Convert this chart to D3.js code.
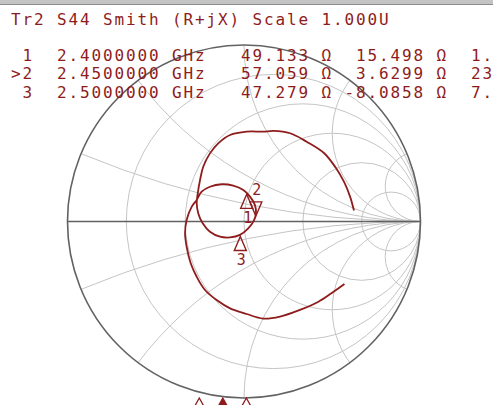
<!DOCTYPE html>
<html>
<head>
<meta charset="utf-8">
<script src="https://cdn.jsdelivr.net/npm/d3@7"></script>
<style>
  body { margin: 0; background: #fff; overflow: hidden; }
  text { font-family: "DejaVu Sans Mono", "Liberation Mono", monospace; white-space: pre; }
</style>
</head>
<body>
<svg id="chart" width="493" height="405"></svg>
<script>

// *** Data ***

var traceName = "Tr2 S44 Smith (R+jX) Scale 1.000U";

var markerIds = ["1", "2", "3"];
var markerFreqGHz = [2.4, 2.45, 2.5];
var markerR = [49.133, 57.059, 47.279];   // ohm
var markerX = [15.498, 3.6299, -8.0858];  // ohm
var activeMarker = "2";
var z0 = 50;

var gridR = [0.2, 0.5, 1, 2, 5];
var gridX = [0.2, 0.5, 1, 2, 5];

// sweep range guessed from where the marker arrows sit on the bottom edge
var sweepGHz = [2.12, 2.87];

var traceRe = [0.569, 0.493, 0.419, 0.317, 0.204, 0.108, 0.015, -0.079, -0.155, -0.221,
               -0.268, -0.302, -0.325, -0.334, -0.325, -0.296, -0.268,
               -0.240, -0.193, -0.126, -0.061, -0.004, 0.034, 0.062, 0.068, 0.053, 0.024,
               -0.023, -0.079, -0.136, -0.193, -0.234, -0.259, -0.268, -0.262,
               -0.249, -0.231, -0.193, -0.146, -0.079, 0.015, 0.109, 0.166, 0.261, 0.355,
               0.453, 0.521, 0.567, 0.601, 0.623];
var traceIm = [-0.354, -0.408, -0.456, -0.501, -0.539, -0.550, -0.524, -0.492, -0.445, -0.388,
               -0.313, -0.237, -0.143, -0.067, 0.008, 0.084, 0.122,
               0.169, 0.197, 0.211, 0.203, 0.178, 0.141, 0.093, 0.046, -0.001, -0.039,
               -0.076, -0.090, -0.086, -0.058, -0.010, 0.046, 0.103, 0.160,
               0.235, 0.310, 0.386, 0.443, 0.490, 0.509, 0.509, 0.513, 0.500, 0.452,
               0.388, 0.303, 0.224, 0.141, 0.062];

// *** Helpers ***

function gamma(r, x) {
  // normalised impedance -> reflection coefficient
  var dr = r + 1, den = dr * dr + x * x;
  var nr = r - 1;
  return [(nr * dr + x * x) / den, (x * dr - nr * x) / den];
}

function eqValue(x, fGHz) {
  var w = 2 * Math.PI * fGHz * 1e9;
  if (x >= 0) {
    var l = x / w;
    if (l >= 1e-9) return (l * 1e9).toPrecision(5) + " nH";
    return (l * 1e12).toPrecision(5) + " pH";
  }
  var c = -1 / (w * x);
  return (c * 1e12).toPrecision(5) + " pF";
}

// *** Chart ***

var svg = d3.select("#chart");
var cx = 244, cy = 221.5, rad = 176.5;

var sx = d3.scaleLinear().domain([-1, 1]).range([cx - rad, cx + rad]);
var sy = d3.scaleLinear().domain([-1, 1]).range([cy + rad, cy - rad]);
var len = d => sx(d) - sx(0);
var fx = d3.scaleLinear().domain(sweepGHz).range([sx(-1), sx(1)]);

var red = "#8e1c1c";

// window border at the top
svg.append("rect").attr("x", 0).attr("y", 0).attr("width", 493).attr("height", 5).attr("fill", "#c4c4c4");
svg.append("line").attr("x1", 0).attr("x2", 493).attr("y1", 4.5).attr("y2", 4.5)
  .attr("stroke", "#8c8c8c").attr("stroke-width", 1);

svg.append("clipPath").attr("id", "unit")
  .append("circle").attr("cx", sx(0)).attr("cy", sy(0)).attr("r", len(1));

var grid = svg.append("g").attr("clip-path", "url(#unit)")
  .attr("fill", "none").attr("stroke", "#c4c4c4").attr("stroke-width", 1);

grid.selectAll(".rc").data(gridR).enter().append("circle")
  .attr("class", "rc")
  .attr("cx", d => sx(d / (1 + d)))
  .attr("cy", sy(0))
  .attr("r", d => len(1 / (1 + d)));

grid.selectAll(".xc").data(gridX.concat(gridX.map(d => -d))).enter().append("circle")
  .attr("class", "xc")
  .attr("cx", sx(1))
  .attr("cy", d => sy(1 / d))
  .attr("r", d => len(1 / Math.abs(d)));

// outer circle and real axis
svg.append("circle").attr("cx", sx(0)).attr("cy", sy(0)).attr("r", len(1))
  .attr("fill", "none").attr("stroke", "#626262").attr("stroke-width", 1.6);
svg.append("line").attr("x1", sx(-1)).attr("x2", sx(1)).attr("y1", sy(0)).attr("y2", sy(0))
  .attr("stroke", "#626262").attr("stroke-width", 1.6);

// trace
var pts = traceRe.map((d, i) => [d, traceIm[i]]);
svg.append("path")
  .attr("d", d3.line().x(d => sx(d[0])).y(d => sy(d[1])).curve(d3.curveCatmullRom)(pts))
  .attr("fill", "none").attr("stroke", red).attr("stroke-width", 1.8);

// markers on the trace
var th = 14, tw = 6;
markerIds.forEach(function (id, i) {
  var g = gamma(markerR[i] / z0, markerX[i] / z0);
  var px = sx(g[0]), py = sy(g[1]);
  var up = id === activeMarker ? -1 : 1;
  svg.append("path")
    .attr("d", "M" + px + "," + py + "L" + (px - tw) + "," + (py + up * th) + "L" + (px + tw) + "," + (py + up * th) + "Z")
    .attr("fill", "none").attr("stroke", red).attr("stroke-width", 1.4);
  svg.append("text")
    .attr("x", px + 1).attr("y", up > 0 ? py + th + 15 : py - th - 7)
    .attr("text-anchor", "middle").attr("font-size", 15).attr("fill", red)
    .text(id);
});

// marker arrows on the stimulus edge
markerIds.forEach(function (id, i) {
  var px = fx(markerFreqGHz[i]), py = 398;
  svg.append("path")
    .attr("d", "M" + px + "," + py + "L" + (px - 5) + "," + (py + 9) + "L" + (px + 5) + "," + (py + 9) + "Z")
    .attr("fill", id === activeMarker ? red : "#fff").attr("stroke", red).attr("stroke-width", 1.3);
});

// title and marker table
var fontSize = 16, pitch = 11.5;
var txt = svg.append("g").attr("fill", red).attr("font-size", fontSize)
  .attr("letter-spacing", (pitch - 0.602 * fontSize).toFixed(2));

txt.append("text").attr("x", 11).attr("y", 25).attr("xml:space", "preserve").text(traceName);

markerIds.forEach(function (id, i) {
  var row = (id === activeMarker ? ">" : " ") + id + "  " +
    markerFreqGHz[i].toFixed(7) + " GHz" +
    markerR[i].toPrecision(5).padStart(9) + " \u03A9" +
    markerX[i].toPrecision(5).padStart(8) + " \u03A9  " +
    eqValue(markerX[i], markerFreqGHz[i]);
  txt.append("text").attr("x", 11).attr("y", 61 + i * 18.3)
    .attr("xml:space", "preserve").text(row);
});

</script>
</body>
</html>
